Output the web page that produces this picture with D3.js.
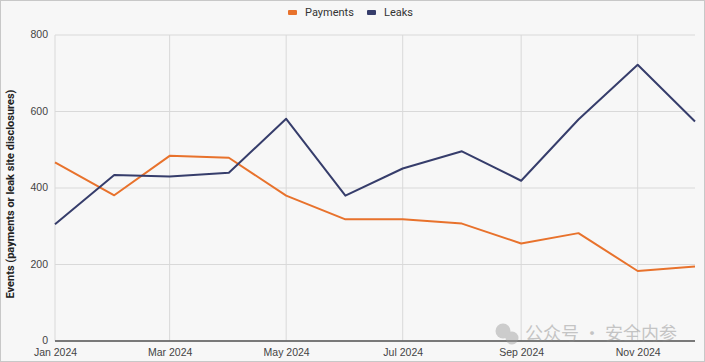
<!DOCTYPE html>
<html>
<head>
<meta charset="utf-8">
<script src="https://cdn.jsdelivr.net/npm/d3@7"></script>
<style>
  body { margin: 0; background: #fff; }
  .chart svg { display: block; font-family: Roboto, "Noto Sans", sans-serif; }
  .tick text { fill: #444; font-size: 10.5px; }
</style>
</head>
<body>
<div class="chart"></div>
<script>
// monthly data, 2024
var months = ["2024-01", "2024-02", "2024-03", "2024-04", "2024-05", "2024-06",
  "2024-07", "2024-08", "2024-09", "2024-10", "2024-11", "2024-12"];
var payments = [467, 381, 484, 479, 380, 318, 318, 307, 255, 282, 183, 195];
var leaks = [305, 434, 430, 440, 581, 380, 451, 496, 419, 579, 722, 574];
var yTicks = [0, 200, 400, 600, 800];
var seriesNames = ["Payments", "Leaks"];
var colors = ["#e8722c", "#363d6b"];

var svgWidth = 705;
var svgHeight = 362;

var margin = { top: 35, right: 10, bottom: 21, left: 55 };

var width = svgWidth - margin.left - margin.right;
var height = svgHeight - margin.top - margin.bottom;

var parseMonth = d3.timeParse("%Y-%m");
var dates = months.map(parseMonth);

var svg = d3.select(".chart")
  .append("svg")
  .attr("width", svgWidth)
  .attr("height", svgHeight);

// background + frame
svg.append("rect")
  .attr("x", 0.5).attr("y", 0.5)
  .attr("width", svgWidth - 1).attr("height", svgHeight - 1)
  .attr("fill", "#f7f7f7")
  .attr("stroke", "#c8c8c8");

var chartGroup = svg.append("g")
  .attr("transform", `translate(${margin.left}, ${margin.top})`);

var xScale = d3.scaleTime()
  .domain([dates[0], dates[dates.length - 1]])
  .range([0, width]);

var yScale = d3.scaleLinear()
  .domain([0, 800])
  .range([height, 0]);

var xTicks = dates.filter((d, i) => i % 2 == 0);

// gridlines
chartGroup.append("g")
  .selectAll("line.h")
  .data(yTicks)
  .enter()
  .append("line")
  .attr("x1", 0)
  .attr("x2", width)
  .attr("y1", d => yScale(d))
  .attr("y2", d => yScale(d))
  .attr("stroke", "#d9d9d9");

chartGroup.append("g")
  .selectAll("line.v")
  .data(xTicks)
  .enter()
  .append("line")
  .attr("x1", d => xScale(d))
  .attr("x2", d => xScale(d))
  .attr("y1", 0)
  .attr("y2", height)
  .attr("stroke", "#d9d9d9");

// axes
var bottomAxis = d3.axisBottom(xScale)
  .tickValues(xTicks)
  .tickSize(0)
  .tickPadding(8)
  .tickFormat(d3.timeFormat("%b %Y"));

var leftAxis = d3.axisLeft(yScale)
  .tickValues(yTicks)
  .tickSize(0)
  .tickPadding(7);

chartGroup.append("g")
  .attr("transform", `translate(0, ${height})`)
  .call(bottomAxis)
  .call(g => g.select(".domain").remove());

chartGroup.append("g")
  .call(leftAxis)
  .call(g => g.select(".domain").remove())
  .call(g => g.selectAll(".tick text").attr("dy", "0.28em"));

// zero line
chartGroup.append("line")
  .attr("x1", 0)
  .attr("x2", width)
  .attr("y1", yScale(0))
  .attr("y2", yScale(0))
  .attr("stroke", "#555")
  .attr("stroke-width", 1.3);

// lines
var line = d3.line()
  .x((d, i) => xScale(dates[i]))
  .y(d => yScale(d));

[payments, leaks].forEach(function (vals, i) {
  chartGroup.append("path")
    .datum(vals)
    .attr("fill", "none")
    .attr("stroke", colors[i])
    .attr("stroke-width", 2)
    .attr("stroke-linejoin", "round")
    .attr("d", line);
});

// y axis title
chartGroup.append("text")
  .attr("transform", "rotate(-90)")
  .attr("x", 0 - (height / 2) - 6)
  .attr("y", 0 - margin.left + 14)
  .attr("text-anchor", "middle")
  .attr("font-size", 11)
  .attr("font-weight", "bold")
  .attr("fill", "#222")
  .text("Events (payments or leak site disclosures)");

// legend
var legendPos = [288, 367];
var legend = svg.selectAll("g.legend")
  .data(seriesNames)
  .enter()
  .append("g")
  .attr("transform", (d, i) => `translate(${legendPos[i]}, 12)`);

legend.append("rect")
  .attr("x", 0)
  .attr("y", -2)
  .attr("width", 9)
  .attr("height", 5)
  .attr("rx", 1)
  .attr("fill", (d, i) => colors[i]);

legend.append("text")
  .attr("x", 17)
  .attr("y", 4)
  .attr("font-size", 11)
  .attr("fill", "#333")
  .text(d => d);

// watermark
var wm = svg.append("g").attr("opacity", 0.45);
wm.append("circle").attr("cx", 503).attr("cy", 331).attr("r", 7.5).attr("fill", "#999");
wm.append("circle").attr("cx", 512).attr("cy", 338).attr("r", 6.5).attr("fill", "#999");
wm.append("text")
  .attr("x", 525)
  .attr("y", 340)
  .attr("font-family", "Noto Sans CJK SC")
  .attr("font-size", 18)
  .attr("fill", "#888")
  .text("公众号 · 安全内参");
</script>
</body>
</html>
